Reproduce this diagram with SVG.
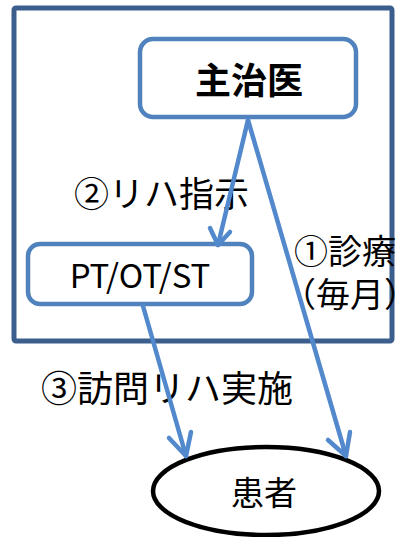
<svg xmlns="http://www.w3.org/2000/svg" width="407" height="537" viewBox="0 0 407 537">
<style>
.t{font-family:"Noto Sans CJK JP","Noto Sans",sans-serif;fill:#000}
.conn{stroke:#5288cc;stroke-width:4.5;fill:none;stroke-linecap:round}
.head{stroke:#5288cc;stroke-width:4.5;fill:none;stroke-linecap:round;stroke-linejoin:round}
.box{fill:#fff;stroke:#5082be;stroke-width:4.5}
</style>
<rect width="407" height="537" fill="#fff"/>
<g id="frame"><rect x="14" y="8" width="378" height="333" rx="2" fill="none" stroke="#3b5e8c" stroke-width="5"/></g>
<g id="labels">
<text class="t" x="74" y="207" font-size="35">②リハ指示</text>
<text class="t" x="294" y="264" font-size="34">①診療</text>
<text class="t" x="282" y="307" font-size="34">（毎月）</text>
<text class="t" x="41" y="402" font-size="36">③訪問リハ実施</text>
</g>
<g id="doctor"><rect class="box" x="140" y="39" width="216" height="78" rx="13"/><text class="t" x="249" y="94" font-size="36" font-weight="bold" text-anchor="middle">主治医</text></g>
<g id="therapist"><rect class="box" x="28" y="244" width="224" height="60" rx="12"/><text class="t" x="140" y="288" font-size="33" text-anchor="middle">PT/OT/ST</text></g>
<g id="patient"><ellipse cx="266" cy="491" rx="113" ry="44" fill="#fff" stroke="#000" stroke-width="4.5"/><text class="t" x="264" y="505" font-size="33" text-anchor="middle">患者</text></g>
<g id="connectors">
<line class="conn" x1="248" y1="120" x2="218" y2="245"/>
<polyline class="head" points="210,228 218,245 230,232"/>
<line class="conn" x1="248" y1="120" x2="346" y2="456"/>
<polyline class="head" points="328,440 346,456 350,432"/>
<line class="conn" x1="143" y1="306" x2="186" y2="456"/>
<polyline class="head" points="169,438 186,456 191,432"/>
</g>
</svg>
